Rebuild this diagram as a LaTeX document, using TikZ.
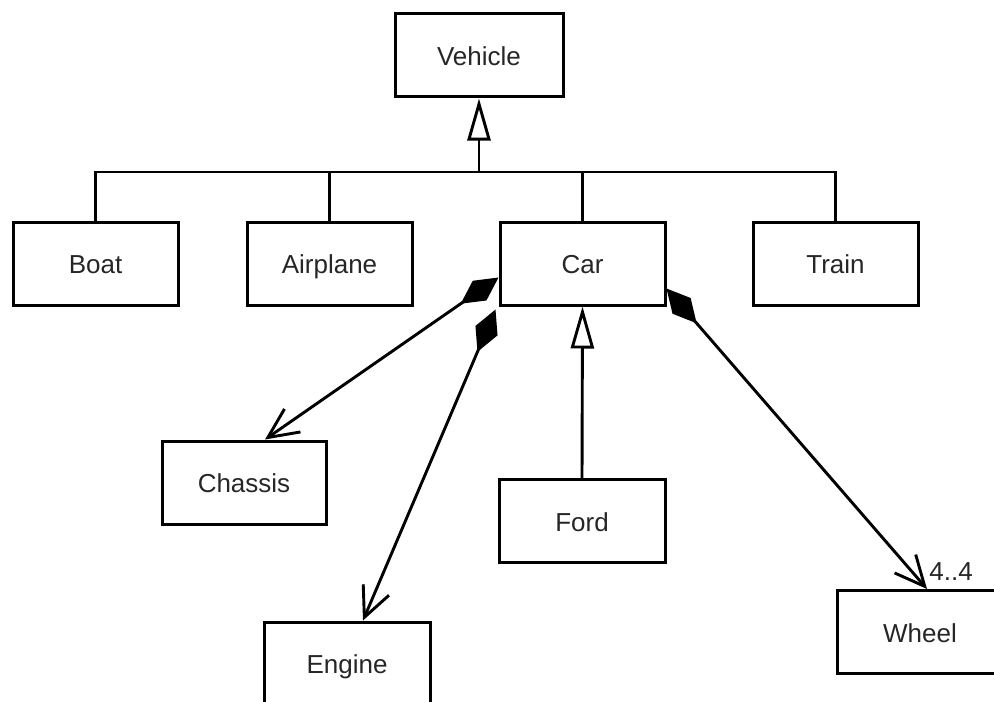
\documentclass[tikz,border=0pt]{standalone}
\usepackage{fontspec}
\setmainfont{Liberation Sans}
\usetikzlibrary{arrows.meta}
\begin{document}
\begin{tikzpicture}[x=0.5pt,y=-0.5pt,
  cls/.style={draw, line width=1.5pt, minimum width=82.5pt, minimum height=41.5pt,
    inner sep=0pt, text height=11.5pt, text depth=1.2pt,
    text=black!85, font=\fontsize{13pt}{15pt}\selectfont},
  wire/.style={line width=1.45pt},
  inherit/.style={wire, -{Triangle[open, length=21pt, width=11.5pt]}},
  compose/.style={wire, {Diamond[length=23pt, width=12pt]}-{Straight Barb[length=15pt, width=14pt]}},
  mult/.style={inner sep=0pt, text=black!85, font=\fontsize{13pt}{15pt}\selectfont},
]
\useasboundingbox (0,0) rectangle (994,701);
\clip (0,0) rectangle (994,701);

% classes
\node[cls, minimum width=84pt] (vehicle) at (479,55.5) {Vehicle};
\node[cls] (boat)     at (95.5,263.5)  {Boat};
\node[cls] (airplane) at (329.5,263.5) {Airplane};
\node[cls] (car)      at (582.5,263.5) {Car};
\node[cls] (train)    at (835.5,263.5) {Train};
\node[cls, minimum width=82pt] (chassis) at (244,482.5) {Chassis};
\node[cls, minimum width=83pt] (ford)    at (582,521)   {Ford};
\node[cls, minimum width=83pt] (engine)  at (347,663.5) {Engine};
\node[cls, minimum width=83pt] (wheel)   at (920,632)   {Wheel};

% generalisation tree
\coordinate (bus) at (479,172);
\draw[inherit] (bus) -- (vehicle.south);
\draw[wire] (boat.north) -- (boat.north |- bus) -- (train.north |- bus) -- (train.north);
\draw[wire] (airplane.north) -- (airplane.north |- bus);
\draw[wire] (car.north) -- (car.north |- bus);
\draw[inherit] (ford.north) -- (car.south);

% compositions
\draw[compose] ([yshift=-7pt]car.west) -- ([xshift=10.5pt]chassis.north);
\draw[compose] ([xshift=-1.5pt,yshift=-1.5pt]car.south west) -- ([xshift=8pt]engine.north);
\draw[compose] ([yshift=-12.5pt]car.east) -- ([xshift=3.5pt]wheel.north);
\node[mult, anchor=west] (m44) at (929,572) {4..4};
\end{tikzpicture}
\end{document}
